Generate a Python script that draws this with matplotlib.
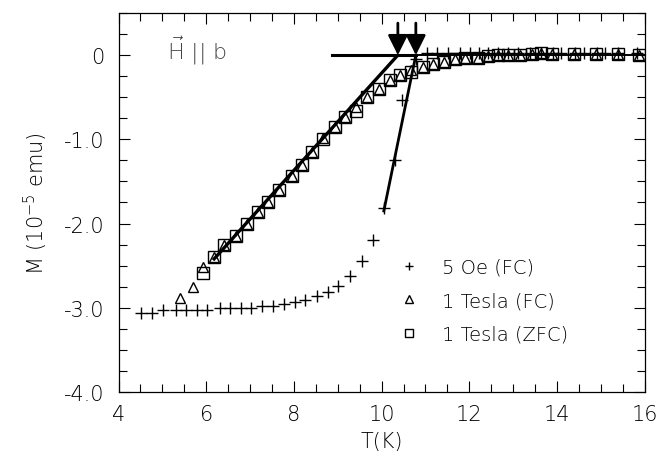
import numpy as np
import matplotlib
matplotlib.use("Agg")
import matplotlib.pyplot as plt
from matplotlib.ticker import MultipleLocator

plt.rcParams['font.family'] = ['DejaVu Sans']
plt.rcParams['font.weight'] = 'light'
plt.rcParams['axes.labelweight'] = 'light'
plt.rcParams['axes.unicode_minus'] = False
plt.rcParams['mathtext.fontset'] = 'custom'
plt.rcParams['mathtext.rm'] = 'DejaVu Sans:light'

# 5 Oe field cooled
t_5oe = [4.52, 4.76, 5.01, 5.30, 5.54, 5.78, 6.01, 6.31, 6.55, 6.80, 7.02, 7.27,
         7.52, 7.77, 8.02, 8.25, 8.53, 8.77, 9.01, 9.27, 9.55, 9.80, 10.05, 10.30,
         10.46, 10.78, 11.03, 11.26, 11.52, 11.79, 12.02, 12.22, 12.43, 12.66,
         12.89, 13.11, 13.38, 13.64, 13.90, 14.10, 14.40, 14.62, 14.90, 15.10,
         15.40, 15.82]
m_5oe = [-3.06, -3.06, -3.03, -3.03, -3.03, -3.03, -3.03, -3.00, -3.00, -3.00,
         -3.00, -2.98, -2.98, -2.96, -2.93, -2.91, -2.86, -2.81, -2.74, -2.62,
         -2.45, -2.20, -1.82, -1.24, -0.53, -0.05, 0.02, 0.02, 0.02, 0.02, 0.02,
         0.02, 0.02, 0.02, 0.02, 0.02, 0.02, 0.02, 0.02, 0.02, 0.02, 0.02, 0.02,
         0.02, 0.02, 0.02]

# 1 Tesla field cooled
t_fc = [5.41, 5.69, 5.93, 6.18, 6.41, 6.69, 6.94, 7.19, 7.42, 7.66, 7.95, 8.19,
        8.42, 8.66, 8.93, 9.17, 9.42, 9.67, 9.95, 10.20, 10.42, 10.67, 10.94,
        11.18, 11.43, 11.67, 11.90, 12.20, 12.43, 12.66, 12.89, 13.15, 13.42,
        13.64, 13.89, 14.39, 14.89, 15.39, 15.86]
m_fc = [-2.89, -2.75, -2.52, -2.40, -2.25, -2.15, -2.00, -1.86, -1.74, -1.60,
        -1.44, -1.30, -1.15, -0.98, -0.85, -0.73, -0.62, -0.50, -0.40, -0.30,
        -0.24, -0.18, -0.14, -0.10, -0.08, -0.05, -0.03, -0.03, -0.01, 0.0, 0.0,
        0.0, 0.01, 0.03, 0.01, 0.01, 0.01, 0.01, 0.0]

# 1 Tesla zero field cooled
t_zfc = [5.93, 6.18, 6.41, 6.69, 6.94, 7.19, 7.42, 7.66, 7.95, 8.19, 8.42, 8.66,
         8.93, 9.17, 9.42, 9.67, 9.95, 10.20, 10.42, 10.67, 10.94, 11.18, 11.43,
         11.67, 11.90, 12.20, 12.43, 12.66, 12.89, 13.15, 13.42, 13.64, 13.89,
         14.39, 14.89, 15.39, 15.86]
m_zfc = [-2.59, -2.40, -2.25, -2.15, -2.00, -1.86, -1.74, -1.60, -1.44, -1.30,
         -1.15, -1.00, -0.85, -0.73, -0.66, -0.50, -0.40, -0.30, -0.24, -0.20,
         -0.14, -0.10, -0.08, -0.05, -0.03, -0.03, -0.01, 0.0, 0.0, 0.0, 0.01,
         0.02, 0.01, 0.01, 0.01, 0.01, 0.0]

# linear extrapolations and transition temperatures
fit1_t = [6.18, 10.37]
fit1_m = [-2.42, 0.0]
fit2_t = [10.05, 10.78]
fit2_m = [-1.85, 0.0]
base_t = [8.86, 16.0]
tc_arrows = [10.37, 10.78]

fig = plt.figure(figsize=(6.64, 4.60), dpi=100)
ax = fig.add_axes([0.1785, 0.1457, 0.7925, 0.8239])

ax.plot(base_t, [0, 0], color='black', lw=1.4)
ax.plot([base_t[0], tc_arrows[1]], [0, 0], color='black', lw=2.2)
ax.plot(fit1_t, fit1_m, color='black', lw=2.4)
ax.plot(fit2_t, fit2_m, color='black', lw=2.0)

ax.plot(t_5oe, m_5oe, '+', color='black', ms=8, mew=1.0, label='5 Oe (FC)')
ax.plot(t_fc, m_fc, '^', mfc='none', mec='black', ms=7, mew=1.0, label='1 Tesla (FC)')
ax.plot(t_zfc, m_zfc, 's', mfc='none', mec='black', ms=8, mew=1.0, label='1 Tesla (ZFC)')

for tc in tc_arrows:
    ax.annotate('', xy=(tc, 0.0), xytext=(tc, 0.38),
                arrowprops=dict(arrowstyle='-|>,head_length=0.6,head_width=0.3',
                                mutation_scale=20, color='black', lw=2,
                                shrinkA=0, shrinkB=0))

ax.text(5.1, 0.06, r'$\vec{\mathrm{H}}$ || b', fontsize=16, va='center', ha='left',
        color='#444444')

ax.set_xlim(4, 16)
ax.set_ylim(-4.0, 0.5)
ax.xaxis.set_major_locator(MultipleLocator(2))
ax.xaxis.set_minor_locator(MultipleLocator(0.5))
ax.set_yticks([0, -1, -2, -3, -4])
ax.set_yticklabels(['0', '-1.0', '-2.0', '-3.0', '-4.0'])
ax.yaxis.set_minor_locator(MultipleLocator(0.25))
ax.tick_params(which='both', direction='in', top=True, right=True, width=0.8)
ax.tick_params(which='major', length=8, labelsize=15)
ax.tick_params(axis='x', which='major', pad=9)
ax.tick_params(axis='y', which='major', pad=10)
ax.tick_params(which='minor', length=6)
for s in ax.spines.values():
    s.set_linewidth(0.9)

ax.set_xlabel('T(K)', fontsize=15, labelpad=5)
ax.set_ylabel(r'M (10$^{-5}$ emu)', fontsize=15, labelpad=10)

ax.legend(loc='upper left', bbox_to_anchor=(0.515, 0.38), frameon=False,
          fontsize=14, handlelength=1.0, handletextpad=1.2, labelspacing=0.75,
          borderpad=0, markerscale=0.8)

fig.savefig('out.png', dpi=100)
